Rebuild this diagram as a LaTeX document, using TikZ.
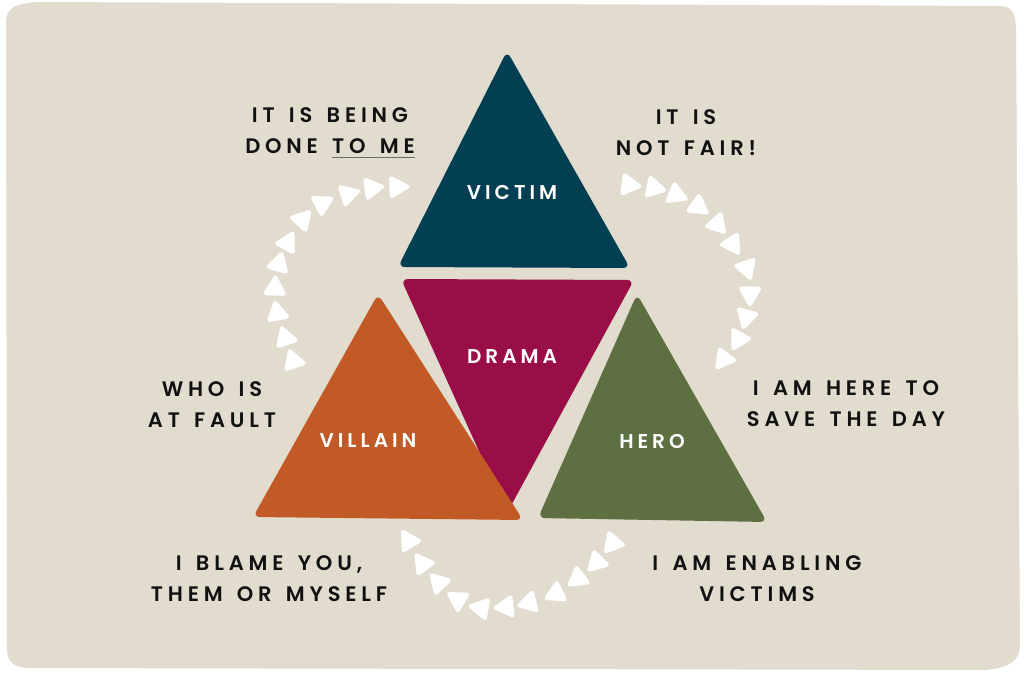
\documentclass[tikz,border=0pt]{standalone}
\usepackage{fontspec}
\newfontfamily\labfont{Poppins SemiBold}[LetterSpace=23, WordSpace=1.45]
\newfontfamily\wlabfont{Poppins SemiBold}[LetterSpace=20]
\definecolor{bg}{HTML}{E2DCCF}
\definecolor{victimc}{HTML}{033F52}
\definecolor{dramac}{HTML}{9A0E47}
\definecolor{villainc}{HTML}{C25A27}
\definecolor{heroc}{HTML}{5E7042}
\definecolor{ink}{HTML}{111111}
\definecolor{ulc}{HTML}{6A6A6A}
\newlength\ulwd
\newcommand\grayul[1]{\settowidth\ulwd{#1}\rlap{\textcolor{ulc}{\rule[-5pt]{\ulwd}{1.4pt}}}#1}
\newcommand\arrtri[3]{\fill[white, rounded corners=4pt, shift={(#1,#2)}, rotate=#3] (13.5,0) -- (-8.5,12.5) -- (-8.5,-12.5) -- cycle;}
\begin{document}
\begin{tikzpicture}[x=1pt,y=-1pt,
  lab/.style={font=\labfont\fontsize{21}{31}\selectfont, align=center, text=ink, inner sep=0pt},
  wlab/.style={font=\wlabfont\fontsize{20}{24}\selectfont, text=white, inner sep=0pt},
  tri/.style={rounded corners=7pt}]
\useasboundingbox (0,0) rectangle (1024,675);
\fill[white] (0,0) rectangle (1024,675);
\fill[bg] (6,22) .. controls (6,8) and (15,3) .. (40,2) -- (1000,6) .. controls (1012,6) and (1016,14) .. (1016,30) -- (1020,645) .. controls (1020,660) and (1010,668) .. (985,670) -- (30,668) .. controls (15,668) and (7,662) .. (7,650) -- cycle;

% main triangles
\fill[victimc, tri] (507,51) -- (630,268) -- (398,267) -- cycle;
\fill[dramac, tri] (401,279) -- (634,280) -- (507,513) -- cycle;
\fill[villainc, tri] (378,294) -- (523,520) -- (253,517) -- cycle;
\fill[heroc, tri] (637,294) -- (767,522) -- (538,518) -- cycle;

% arrow triangles, left arc
\arrtri{293}{360}{109}
\arrtri{285}{337}{108}
\arrtri{277}{312}{101}
\arrtri{275}{287}{88}
\arrtri{279}{263}{74}
\arrtri{288}{242}{61}
\arrtri{303}{219}{48}
\arrtri{323}{203}{28}
\arrtri{349}{194}{17}
\arrtri{373}{188}{8}
\arrtri{398}{187}{2}
% right arc
\arrtri{630}{185}{-7}
\arrtri{655}{188}{-12}
\arrtri{677}{195}{-23}
\arrtri{699}{207}{-36}
\arrtri{718}{225}{-48}
\arrtri{733}{245}{-57}
\arrtri{747}{269}{-71}
\arrtri{750}{295}{-91}
\arrtri{746}{318}{-105}
\arrtri{738}{340}{-119}
\arrtri{723}{360}{-127}
% bottom arc
\arrtri{612}{544}{-130}
\arrtri{596}{563}{-135}
\arrtri{577}{579}{-143}
\arrtri{555}{594}{-154}
\arrtri{528}{603}{-165}
\arrtri{505}{607}{-174}
\arrtri{480}{608}{170}
\arrtri{457}{599}{148}
\arrtri{438}{582}{134}
\arrtri{422}{563}{126}
\arrtri{408}{540}{121}

% labels in triangles
\node[wlab] (victim) at (512,192) {VICTIM};
\node[wlab] (drama) at (512,357) {DRAMA};
\node[wlab] (villain) at (368,441) {VILLAIN};
\node[wlab] (hero) at (652,441) {HERO};

% outer labels
\node[lab] (tl) at (330,133) {IT IS BEING\\DONE \grayul{TO ME}};
\node[lab] (tr) at (686,133) {IT IS\\NOT FAIR!};
\node[lab] (ml) at (212,405) {WHO IS\\AT FAULT};
\node[lab] (mr) at (846,404) {I AM HERE TO\\SAVE THE DAY};
\node[lab] (bl) at (269,579) {I BLAME YOU,\\THEM OR MYSELF};
\node[lab] (br) at (757,579) {I AM ENABLING\\VICTIMS};
\end{tikzpicture}
\end{document}
